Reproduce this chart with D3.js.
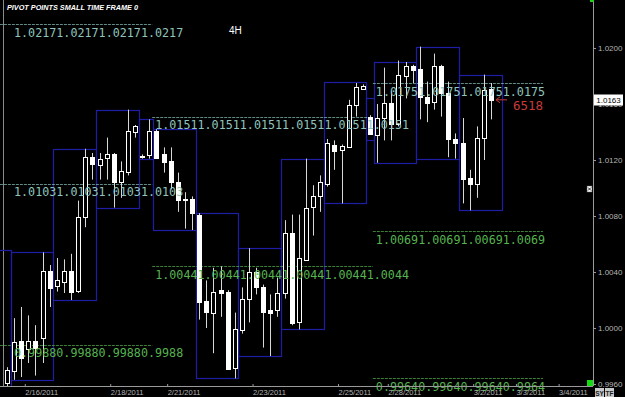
<!DOCTYPE html>
<html>
<head>
<meta charset="utf-8">
<script src="https://cdn.jsdelivr.net/npm/d3@7"></script>
<style>
  body { margin: 0; background: #000; }
  svg { display: block; }
</style>
</head>
<body>
<div id="chart"></div>
<script>
// 4H-Kerzen, Index 0 = erste sichtbare Kerze
const candleOpen = [0.9961, 0.9969, 0.9991, 0.9985, 0.9991, 0.9993, 1.0041,
  1.0030, 1.0033, 1.0041, 1.0026, 1.0079, 1.0122,
  1.0117, 1.0121, 1.0124, 1.0104, 1.0112, 1.0140,
  1.0123, 1.0124,
  1.0141, 1.0124, 1.0119, 1.0104, 1.0092, 1.0092,
  1.0081, 1.0019, 1.0011, 1.0027, 1.0026, 0.9971,
  0.9999, 1.0021, 1.0040, 1.0029, 1.0013, 1.0013,
  1.0025, 1.0068, 1.0004, 1.0049, 1.0086, 1.0094,
  1.0103, 1.0131, 1.0127, 1.0129, 1.0159, 1.0171,
  1.0151,
  1.0138, 1.0150, 1.0161, 1.0146, 1.0180, 1.0187,
  1.0185, 1.0165, 1.0161, 1.0187, 1.0168, 1.0135,
  1.0132, 1.0107, 1.0103, 1.0136, 1.0171];
const candleHigh = [0.9972, 1.0007, 1.0015, 1.0009, 1.0002, 1.0054, 1.0045,
  1.0050, 1.0049, 1.0053, 1.0091, 1.0128, 1.0125,
  1.0125, 1.0136, 1.0125, 1.0119, 1.0156, 1.0145,
  1.0124, 1.0149,
  1.0142, 1.0129, 1.0129, 1.0111, 1.0097, 1.0094,
  1.0082, 1.0034, 1.0043, 1.0044, 1.0027, 1.0011,
  1.0029, 1.0057, 1.0043, 1.0031, 1.0024, 1.0036,
  1.0077, 1.0081, 1.0081, 1.0121, 1.0102, 1.0109,
  1.0135, 1.0134, 1.0131, 1.0163, 1.0175, 1.0174,
  1.0152,
  1.0160, 1.0186, 1.0169, 1.0191, 1.0190, 1.0188,
  1.0201, 1.0176, 1.0196, 1.0188, 1.0176, 1.0139,
  1.0150, 1.0113, 1.0144, 1.0181, 1.0175];
const candleLow = [0.9958, 0.9963, 0.9965, 0.9975, 0.9966, 0.9975, 1.0015,
  1.0026, 1.0025, 1.0020, 1.0025, 1.0072, 1.0106,
  1.0106, 1.0106, 1.0086, 1.0093, 1.0109, 1.0136,
  1.0121, 1.0121,
  1.0121, 1.0111, 1.0099, 1.0083, 1.0071, 1.0070,
  1.0006, 1.0000, 0.9982, 1.0008, 0.9970, 0.9964,
  0.9996, 1.0004, 1.0024, 0.9986, 0.9980, 1.0008,
  1.0021, 1.0002, 0.9999, 1.0048, 1.0066, 1.0083,
  1.0101, 1.0113, 1.0089, 1.0129, 1.0151, 1.0170,
  1.0138,
  1.0118, 1.0134, 1.0134, 1.0144, 1.0164, 1.0175,
  1.0149, 1.0147, 1.0156, 1.0151, 1.0122, 1.0121,
  1.0089, 1.0084, 1.0093, 1.0120, 1.0149];
const candleClose = [0.9970, 0.9990, 0.9979, 0.9991, 0.9986, 1.0041, 1.0029,
  1.0034, 1.0041, 1.0026, 1.0079, 1.0122, 1.0117,
  1.0121, 1.0124, 1.0104, 1.0112, 1.0141, 1.0144,
  1.0122, 1.0141,
  1.0122, 1.0118, 1.0104, 1.0091, 1.0091, 1.0082,
  1.0019, 1.0011, 1.0026, 1.0025, 0.9971, 0.9999,
  1.0021, 1.0040, 1.0029, 1.0011, 1.0011, 1.0025,
  1.0068, 1.0004, 1.0050, 1.0086, 1.0094, 1.0104,
  1.0132, 1.0127, 1.0130, 1.0159, 1.0172, 1.0173,
  1.0139,
  1.0150, 1.0161, 1.0146, 1.0181, 1.0187, 1.0184,
  1.0165, 1.0161, 1.0187, 1.0168, 1.0135, 1.0132,
  1.0106, 1.0103, 1.0136, 1.0170, 1.0163];

// Tagesboxen (Hoch/Tief je Session), Grenzen in Kerzen-Index
const dayStart = [-6.5, 0.5, 6.5, 12.5, 18.5, 20.5, 26.5, 32.5, 38.5, 44.5, 50.5, 51.5, 57.5, 63.5];
const dayEnd   = [0.5, 6.5, 12.5, 18.5, 20.5, 26.5, 32.5, 38.5, 44.5, 50.5, 51.5, 57.5, 63.5, 69.5];
const dayHigh  = [1.0056, 1.0054, 1.0128, 1.0156, 1.0149, 1.0142, 1.0082, 1.0057, 1.0121, 1.0176, 1.0164, 1.0190, 1.0201, 1.0181];
const dayLow   = [0.9958, 0.9963, 1.0020, 1.0086, 1.0121, 1.0070, 0.9964, 0.9980, 0.9999, 1.0089, 1.0134, 1.0118, 1.0121, 1.0084];

// Pivot-Perioden
const pivotStart  = [-1, 20.4, 51.4];
const pivotEnd    = [20.4, 51.4, 75.3];
const pivotRepeat = [4, 6, 4];
const pivotPeriod = [0, 0, 0, 1, 1, 2, 2, 2];
const pivotValue  = [1.0217, 1.0103, 0.9988, 1.0151, 1.0044, 1.0175, 1.0069, 0.9964];
const pivotGroup  = ["hoch", "hoch", "tief", "hoch", "tief", "hoch", "tief", "tief"];

// Achsen
const priceTicks = [0.9960, 1.0000, 1.0040, 1.0080, 1.0120, 1.0160, 1.0200];
const dateTickIndex = [2.5, 14.5, 22.5, 34.5, 46.5, 53.5, 65.5, 71.5, 77.5];
const dateLabels = ["2/16/2011", "2/18/2011", "2/21/2011", "2/23/2011", "2/25/2011",
  "2/28/2011", "3/2/2011", "3/3/2011", "3/4/2011"];
const markerText = "6518";

const width = 625, height = 397;
const plotRight = 593, plotBottom = 386;

const candles = candleOpen.map((o, i) => ({
  i, o, h: candleHigh[i], l: candleLow[i], c: candleClose[i]
}));

const x = d3.scaleLinear().domain([0, 68]).range([7, 491]);
const y = d3.scaleLinear().domain([0.9960, 1.0200]).range([384, 48]);

const pivotColor = { hoch: "#8fc4bd", tief: "#56b350" };

const svg = d3.select("#chart").append("svg")
  .attr("width", width)
  .attr("height", height)
  .style("background", "#000")
  .style("font-family", "'Liberation Sans', Arial, sans-serif");

svg.append("defs").append("clipPath").attr("id", "plot")
  .append("rect").attr("x", 0).attr("y", 0).attr("width", plotRight).attr("height", plotBottom);

const plot = svg.append("g").attr("clip-path", "url(#plot)");

// linke graue Linie
plot.append("line")
  .attr("x1", 3.5).attr("x2", 3.5).attr("y1", 0).attr("y2", plotBottom)
  .attr("stroke", "#8a8a8a");

// Tagesboxen
plot.selectAll(".box")
  .data(dayStart)
  .enter()
  .append("rect")
  .attr("class", "box")
  .attr("x", (d, i) => Math.round(x(d)) + 0.5)
  .attr("y", (d, i) => Math.round(y(dayHigh[i])) + 0.5)
  .attr("width", (d, i) => Math.round(x(dayEnd[i])) - Math.round(x(d)))
  .attr("height", (d, i) => Math.round(y(dayLow[i])) - Math.round(y(dayHigh[i])))
  .attr("fill", "none")
  .attr("stroke", "#1d1da6")
  .attr("stroke-width", 1.2);

// Pivot-Linien
const pivots = pivotValue.map((v, k) => ({
  v, p: pivotPeriod[k], g: pivotGroup[k]
}));

plot.selectAll(".pivline")
  .data(pivots)
  .enter()
  .append("line")
  .attr("class", "pivline")
  .attr("x1", d => x(pivotStart[d.p]))
  .attr("x2", d => x(pivotEnd[d.p]))
  .attr("y1", d => Math.round(y(d.v)) + 0.5)
  .attr("y2", d => Math.round(y(d.v)) + 0.5)
  .attr("stroke", d => pivotColor[d.g])
  .attr("stroke-opacity", 0.7)
  .attr("stroke-dasharray", "3,1");

// Kerzen
const bodyW = 5;
const cg = plot.append("g");

cg.selectAll(".wick")
  .data(candles)
  .enter()
  .append("line")
  .attr("class", "wick")
  .attr("x1", d => Math.round(x(d.i)) + 0.5)
  .attr("x2", d => Math.round(x(d.i)) + 0.5)
  .attr("y1", d => y(d.h))
  .attr("y2", d => y(d.l))
  .attr("stroke", "#d8d8d8");

cg.selectAll(".body")
  .data(candles)
  .enter()
  .append("rect")
  .attr("class", "body")
  .attr("x", d => Math.round(x(d.i)) - 2 + 0.5)
  .attr("y", d => Math.round(y(Math.max(d.o, d.c))) + 0.5)
  .attr("width", bodyW - 1)
  .attr("height", d => Math.max(1, Math.round(Math.abs(y(d.o) - y(d.c)))))
  .attr("fill", d => d.c < d.o ? "#ffffff" : "#000000")
  .attr("stroke", "#ffffff");

// Pivot-Texte
svg.selectAll(".pivtext")
  .data(pivots)
  .enter()
  .append("text")
  .attr("class", "pivtext")
  .attr("x", d => Math.max(x(pivotStart[d.p]), 11) + 3)
  .attr("y", d => y(d.v) + 12.5)
  .attr("fill", d => pivotColor[d.g])
  .style("font-family", "'DejaVu Sans Mono', monospace")
  .style("font-size", "12.5px")
  .attr("textLength", d => pivotRepeat[d.p] * 6 * 7.05)
  .attr("lengthAdjust", "spacingAndGlyphs")
  .text(d => d3.format(".4f")(d.v).repeat(pivotRepeat[d.p]));

// Achsenlinien
svg.append("line")
  .attr("x1", plotRight + 0.5).attr("x2", plotRight + 0.5)
  .attr("y1", 0).attr("y2", plotBottom)
  .attr("stroke", "#9a9a9a");
svg.append("line")
  .attr("x1", 0).attr("x2", plotRight)
  .attr("y1", plotBottom + 0.5).attr("y2", plotBottom + 0.5)
  .attr("stroke", "#9a9a9a");

// rechte Preisachse
const yAxis = svg.append("g")
  .attr("transform", `translate(${plotRight},0)`)
  .call(d3.axisRight(y).tickValues(priceTicks).tickSize(3).tickSizeOuter(0)
    .tickFormat(d3.format(".4f")));
yAxis.select(".domain").remove();
yAxis.selectAll("line").attr("stroke", "#9a9a9a");
yAxis.selectAll("text")
  .attr("x", 5)
  .attr("fill", "#b4b4b4")
  .style("font-size", "8px")
  .style("font-family", "'Liberation Sans', Arial, sans-serif");

// Datumsachse
const xAxis = svg.append("g")
  .attr("transform", `translate(0,${plotBottom})`)
  .call(d3.axisBottom(x).tickValues(dateTickIndex).tickSize(2).tickSizeOuter(0)
    .tickFormat((d, i) => dateLabels[i]));
xAxis.select(".domain").remove();
xAxis.selectAll("line").attr("stroke", "#9a9a9a").attr("y1", -2).attr("y2", 1);
xAxis.selectAll("text")
  .attr("y", 4)
  .attr("dy", "0.71em")
  .attr("fill", "#b4b4b4")
  .style("text-anchor", "start")
  .style("font-size", "7.5px")
  .style("font-family", "'Liberation Sans', Arial, sans-serif");

// aktueller Kurs
const last = candles[candles.length - 1];
const lastY = y(last.c);
svg.append("rect")
  .attr("x", plotRight + 1).attr("y", Math.round(lastY) - 5.5)
  .attr("width", 29).attr("height", 11)
  .attr("fill", "#fff");
svg.append("text")
  .attr("x", plotRight + 15.5).attr("y", lastY + 3)
  .attr("text-anchor", "middle")
  .attr("fill", "#000")
  .style("font-size", "8px")
  .text(d3.format(".4f")(last.c));

// roter Pfeil + Wert
const ax = x(last.i);
svg.append("line")
  .attr("x1", ax + 5).attr("x2", ax + 16)
  .attr("y1", lastY).attr("y2", lastY)
  .attr("stroke", "#c83a3a");
svg.append("path")
  .attr("d", `M${ax + 5},${lastY} l4,-3 M${ax + 5},${lastY} l4,3`)
  .attr("stroke", "#c83a3a")
  .attr("fill", "none");
svg.append("text")
  .attr("x", ax + 22).attr("y", lastY + 10)
  .attr("fill", "#c83a3a")
  .style("font-family", "'DejaVu Sans Mono', monospace")
  .style("font-size", "12.5px")
  .attr("textLength", 30)
  .attr("lengthAdjust", "spacingAndGlyphs")
  .text(markerText);

// Titel
svg.append("text")
  .attr("x", 7).attr("y", 10)
  .attr("fill", "#fff")
  .style("font-size", "7.5px")
  .style("font-weight", "bold")
  .style("font-style", "italic")
  .attr("textLength", 131)
  .attr("lengthAdjust", "spacingAndGlyphs")
  .text("PIVOT POINTS SMALL TIME FRAME 0");

svg.append("text")
  .attr("x", 229).attr("y", 34)
  .attr("fill", "#fff")
  .style("font-size", "10px")
  .text("4H");

// kleine Markierungen rechts
svg.append("rect").attr("x", 590).attr("y", 0).attr("width", 4).attr("height", 2).attr("fill", "#22cc22");
svg.append("rect").attr("x", 587).attr("y", 380).attr("width", 6).attr("height", 6).attr("fill", "#11dd11");
svg.append("rect").attr("x", 587).attr("y", 186).attr("width", 5).attr("height", 6)
  .attr("fill", "#fff").attr("stroke", "#555").attr("stroke-width", 0.5);
svg.append("path").attr("d", "M588,187.5 l3,3 M591,187.5 l-3,3")
  .attr("stroke", "#000").attr("stroke-width", 0.8);

// SY / TF Knöpfe
[["SY", 595], ["TF", 605]].forEach(([t, bx]) => {
  svg.append("rect").attr("x", bx).attr("y", 388).attr("width", 9).attr("height", 9).attr("fill", "#c8c8c8");
  svg.append("text").attr("x", bx + 4.5).attr("y", 395.5)
    .attr("text-anchor", "middle").attr("fill", "#222")
    .style("font-size", "6.5px").style("font-weight", "bold").text(t);
});
</script>
</body>
</html>
